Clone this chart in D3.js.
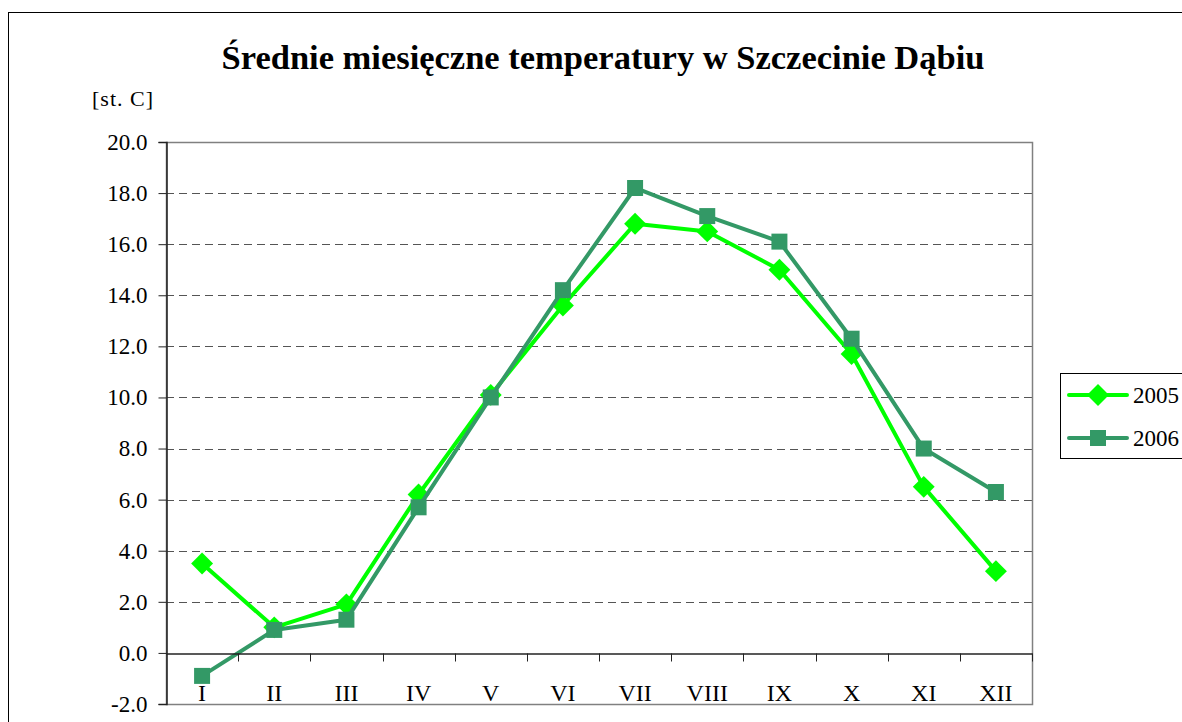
<!DOCTYPE html>
<meta charset="utf-8">
<style>
body { margin: 0; background: #fff; overflow: hidden; }
text { font-family: "Liberation Serif", "Times New Roman", serif; fill: #000; }
.grid line { stroke: #555; stroke-dasharray: 8 5; stroke-width: 1; }
</style>
<body>
<script src="https://d3js.org/d3.v7.min.js"></script>
<script>

// chart data
var months = ["I", "II", "III", "IV", "V", "VI", "VII", "VIII", "IX", "X", "XI", "XII"];
var temp2005 = [3.5, 1.0, 1.9, 6.2, 10.1, 13.6, 16.8, 16.5, 15.0, 11.7, 6.5, 3.2];
var temp2006 = [-0.9, 0.9, 1.3, 5.7, 10.0, 14.2, 18.2, 17.1, 16.1, 12.3, 8.0, 6.3];
var yTicks = [-2, 0, 2, 4, 6, 8, 10, 12, 14, 16, 18, 20];

var series = [
  {name: "2005", values: temp2005, color: "#00ff00", shape: "diamond"},
  {name: "2006", values: temp2006, color: "#339966", shape: "square"}
];

var serif = "'Liberation Serif', 'Times New Roman', serif";

// plain hyphen for negatives, like the original
var fmt = d3.formatLocale({decimal: ".", thousands: "", grouping: [3], currency: ["", ""], minus: "-"}).format(".1f");

// plot area
var plotLeft = 166, plotTop = 142, plotRight = 1032, plotBottom = 704;

var svg = d3.select("body").append("svg")
    .attr("width", 1182)
    .attr("height", 722);

// chart border
svg.append("rect")
    .attr("x", 8.5).attr("y", 12.5)
    .attr("width", 1200).attr("height", 800)
    .attr("fill", "none").attr("stroke", "#000");

var x = d3.scaleBand().domain(months).range([plotLeft, plotRight]).padding(0);
var y = d3.scaleLinear().domain([-2, 20]).range([plotBottom, plotTop]);
var xc = function(m) { return x(m) + x.bandwidth() / 2; };

// dashed gridlines
svg.append("g").attr("class", "grid")
  .selectAll("line")
  .data(yTicks.filter(function(d) { return d > 0 && d < 20; }))
  .enter().append("line")
    .attr("x1", plotLeft).attr("x2", plotRight)
    .attr("y1", function(d) { return Math.round(y(d)) + 0.5; })
    .attr("y2", function(d) { return Math.round(y(d)) + 0.5; });

// plot area frame
svg.append("rect")
    .attr("x", plotLeft + 0.5).attr("y", plotTop + 0.5)
    .attr("width", plotRight - plotLeft).attr("height", plotBottom - plotTop)
    .attr("fill", "none").attr("stroke", "#808080").attr("stroke-width", 1.5);

// y axis
var yAxis = svg.append("g")
    .attr("transform", "translate(" + (plotLeft + 0.5) + ",0)")
    .call(d3.axisLeft(y).tickValues(yTicks).tickSize(8).tickPadding(11)
      .tickFormat(fmt));
yAxis.attr("font-family", serif);
yAxis.select(".domain").attr("stroke", "#222").attr("stroke-width", 1.5);
yAxis.selectAll(".tick line").attr("stroke", "#222");
yAxis.selectAll("text").attr("font-size", 23).attr("fill", "#000");

// marker symbol
function marker(shape) {
  if (shape == "diamond")
    return {d: d3.symbol(d3.symbolSquare, 240)(), rot: 45};
  return {d: d3.symbol(d3.symbolSquare, 256)(), rot: 0};
}

var line = d3.line()
    .x(function(d, i) { return xc(months[i]); })
    .y(function(d) { return y(d); });

series.forEach(function(s) {
  var g = svg.append("g");
  g.append("path")
    .datum(s.values)
    .attr("d", line)
    .attr("fill", "none")
    .attr("stroke", s.color)
    .attr("stroke-width", 4)
    .attr("stroke-linejoin", "round");
  var m = marker(s.shape);
  g.selectAll(".pt")
    .data(s.values)
    .enter().append("path")
      .attr("d", m.d)
      .attr("fill", s.color)
      .attr("transform", function(d, i) {
        return "translate(" + xc(months[i]) + "," + y(d) + ") rotate(" + m.rot + ")";
      });
});

// x axis crossing at 0 (labels drawn over the markers)
var y0 = Math.round(y(0)) + 0.5;
var xAxis = svg.append("g")
    .attr("transform", "translate(0," + y0 + ")")
    .call(d3.axisBottom(x).tickSize(0).tickPadding(30));
xAxis.attr("font-family", serif);
xAxis.select(".domain").attr("stroke", "#222").attr("stroke-width", 1.5);
xAxis.selectAll("text").attr("font-size", 24).attr("fill", "#000");
xAxis.selectAll(".bound")
  .data(months.slice(1).concat(["end"]))
  .enter().append("line")
    .attr("x1", function(d, i) { return Math.round(plotLeft + x.bandwidth() * (i + 1)) + 0.5; })
    .attr("x2", function(d, i) { return Math.round(plotLeft + x.bandwidth() * (i + 1)) + 0.5; })
    .attr("y1", 0).attr("y2", 8)
    .attr("stroke", "#222");

// title and unit
svg.append("text")
    .attr("x", 603).attr("y", 69)
    .attr("text-anchor", "middle")
    .attr("font-size", 34.5).attr("font-weight", "bold")
    .text("Średnie miesięczne temperatury w Szczecinie Dąbiu");

svg.append("text")
    .attr("x", 92).attr("y", 106)
    .attr("font-size", 22)
    .attr("letter-spacing", 1)
    .text("[st. C]");

// legend
var legend = svg.append("g");
legend.append("rect")
    .attr("x", 1060.5).attr("y", 373.5)
    .attr("width", 140).attr("height", 85)
    .attr("fill", "#fff").attr("stroke", "#000");

series.forEach(function(s, i) {
  var ly = 395 + i * 43;
  legend.append("line")
    .attr("x1", 1069).attr("x2", 1127)
    .attr("y1", ly).attr("y2", ly)
    .attr("stroke", s.color).attr("stroke-width", 4)
    .attr("stroke-linecap", "round");
  var m = marker(s.shape);
  legend.append("path")
    .attr("d", m.d)
    .attr("fill", s.color)
    .attr("transform", "translate(1098," + ly + ") rotate(" + m.rot + ")");
  legend.append("text")
    .attr("x", 1133).attr("y", ly + 8)
    .attr("font-size", 23)
    .text(s.name);
});

</script>
</body>
